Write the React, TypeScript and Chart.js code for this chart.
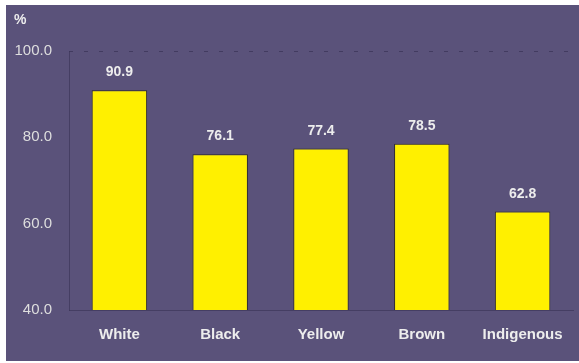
import React, { useEffect, useRef } from "react";
import { Chart, registerables } from "chart.js";

Chart.register(...registerables);

const categories = ["White", "Black", "Yellow", "Brown", "Indigenous"];
const values = [90.9, 76.1, 77.4, 78.5, 62.8];
const yTicks = [40, 60, 80, 100];
const unitLabel = "%";

const BG = "#5A527A";
const TEXT = "#EDEDED";
const FONT = "'Liberation Sans', Arial, Helvetica, sans-serif";

export default function App() {
  const ref = useRef<HTMLCanvasElement | null>(null);

  useEffect(() => {
    if (!ref.current) return;
    const extras = {
      id: "extras",
      beforeDatasetsDraw(chart: any) {
        const ctx = chart.ctx;
        const y = Math.round(chart.scales.y.getPixelForValue(yTicks[yTicks.length - 1])) + 0.5;
        ctx.save();
        ctx.strokeStyle = "rgba(60,54,90,0.8)";
        ctx.lineWidth = 1;
        ctx.setLineDash([4, 11]);
        ctx.beginPath();
        ctx.moveTo(chart.chartArea.left, y);
        ctx.lineTo(chart.width, y);
        ctx.stroke();
        ctx.restore();
      },
      afterDatasetsDraw(chart: any) {
        const ctx = chart.ctx;
        const meta = chart.getDatasetMeta(0);
        ctx.save();
        ctx.font = `bold 14px ${FONT}`;
        ctx.fillStyle = TEXT;
        ctx.textAlign = "center";
        ctx.textBaseline = "alphabetic";
        meta.data.forEach((el: any, i: number) => {
          ctx.fillText(values[i].toFixed(1), el.x, el.y - 14);
        });
        ctx.font = `bold 14px ${FONT}`;
        ctx.textAlign = "left";
        ctx.textBaseline = "middle";
        ctx.fillText(unitLabel, 8, 15);
        ctx.restore();
      },
    };
    const chart = new Chart(ref.current, {
      type: "bar",
      data: {
        labels: categories,
        datasets: [
          {
            data: values,
            backgroundColor: "#FFF000",
            borderColor: "#2E2A2A",
            borderWidth: 1,
            borderSkipped: false,
            barPercentage: 0.55,
            categoryPercentage: 1,
          },
        ],
      },
      options: {
        animation: false,
        responsive: false,
        layout: { padding: { top: 46, left: 0, right: 4, bottom: 1 } },
        plugins: {
          legend: { display: false },
          tooltip: { enabled: false },
          title: { display: false },
        },
        scales: {
          x: {
            grid: { display: false, drawTicks: false, tickLength: 0 },
            border: { display: true, color: "rgba(60,54,90,0.7)", width: 1 },
            ticks: {
              color: TEXT,
              padding: 16,
              font: { family: FONT, size: 15, weight: "bold" },
            },
          },
          y: {
            min: 40,
            max: 100,
            afterFit: (scale: any) => {
              scale.width = 63;
            },
            afterBuildTicks: (scale: any) => {
              scale.ticks = yTicks.map((v) => ({ value: v }));
            },
            grid: { display: false, drawTicks: false, tickLength: 0 },
            border: { display: true, color: "rgba(60,54,90,0.7)", width: 1 },
            ticks: {
              color: "#DEDEDE",
              padding: 17,
              font: { family: FONT, size: 15 },
              callback: (v: any) => Number(v).toFixed(1),
            },
          },
        },
      },
      plugins: [extras],
    });
    return () => chart.destroy();
  }, []);

  return (
    <div
      style={{
        position: "absolute",
        top: 5,
        left: 6,
        width: 573,
        height: 356,
        background: BG,
      }}
    >
      <canvas ref={ref} width={573} height={356} style={{ width: 573, height: 356, display: "block" }} />
    </div>
  );
}
